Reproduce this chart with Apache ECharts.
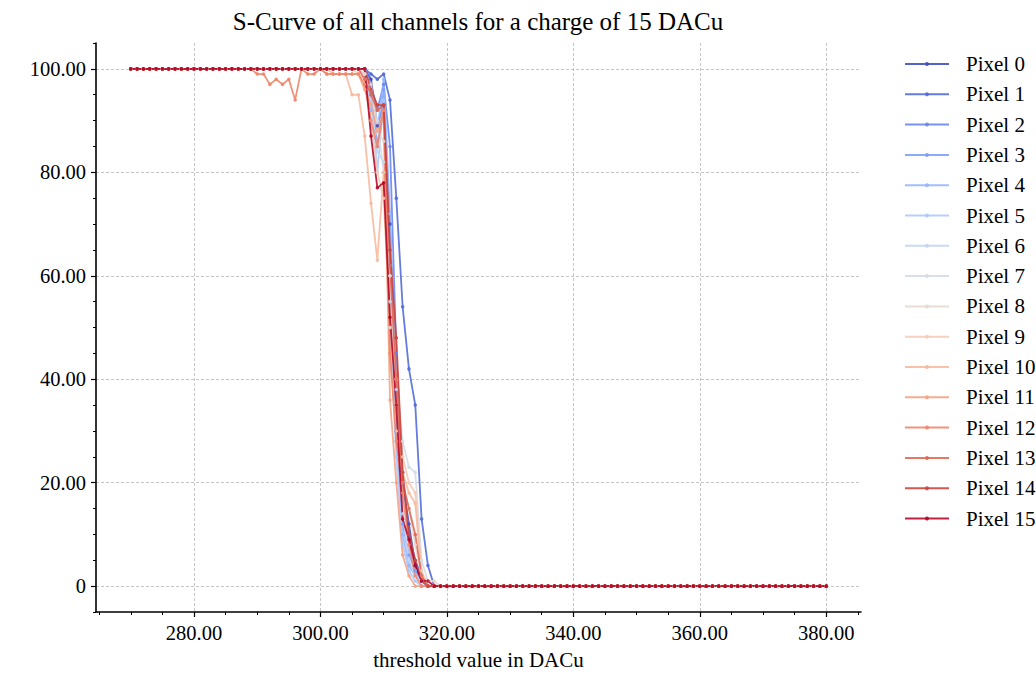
<!DOCTYPE html>
<html>
<head>
<meta charset="utf-8">
<script src="https://cdn.jsdelivr.net/npm/echarts@6/dist/echarts.min.js"></script>
<style>html,body{margin:0;padding:0;background:#fff}#c{width:1036px;height:675px}</style>
</head>
<body>
<div id="c"></div>
<script>
const thresholds = [
  270,271,272,273,274,275,276,277,278,279,
  280,281,282,283,284,285,286,287,288,289,
  290,291,292,293,294,295,296,297,298,299,
  300,301,302,303,304,305,306,307,308,309,
  310,311,312,313,314,315,316,317,318,319,
  320,321,322,323,324,325,326,327,328,329,
  330,331,332,333,334,335,336,337,338,339,
  340,341,342,343,344,345,346,347,348,349,
  350,351,352,353,354,355,356,357,358,359,
  360,361,362,363,364,365,366,367,368,369,
  370,371,372,373,374,375,376,377,378,379,
  380
];
const seriesNames = ['Pixel 0','Pixel 1','Pixel 2','Pixel 3','Pixel 4','Pixel 5','Pixel 6','Pixel 7',
  'Pixel 8','Pixel 9','Pixel 10','Pixel 11','Pixel 12','Pixel 13','Pixel 14','Pixel 15'];
const colors = ['#3b4cc0','#4f6ad8','#6585ec','#7b9ff9','#93b5fe','#aac7fd','#c0d4f5','#d4dbe7',
  '#e6d7cf','#f2cbb7','#f7b89c','#f6a182','#ee8468','#e06550','#cc4039','#b40426'];
const xMajorTicks = [280,300,320,340,360,380];
const xMinorTicks = [265,270,275,285,290,295,305,310,315,325,330,335,345,350,355,365,370,375,385];
const yMajorTicks = [0,20,40,60,80,100];
const yMinorTicks = [-5,5,10,15,25,30,35,45,50,55,65,70,75,85,90,95,105];

const pixel0 = [
  100,100,100,100,100,100,100,100,100,100,
  100,100,100,100,100,100,100,100,100,100,
  100,100,100,100,100,100,100,100,100,100,
  100,100,100,100,100,100,100,100,98,89,
  93,70,30,20,12,4,1,0,0,0,
  0,0,0,0,0,0,0,0,0,0, 0,0,0,0,0,0,0,0,0,0, 0,0,0,0,0,0,0,0,0,0,
  0,0,0,0,0,0,0,0,0,0, 0,0,0,0,0,0,0,0,0,0, 0,0,0,0,0,0,0,0,0,0,
  0
];
const pixel1 = [
  100,100,100,100,100,100,100,100,100,100,
  100,100,100,100,100,100,100,100,100,100,
  100,100,100,100,100,100,100,100,100,100,
  100,100,100,100,100,100,100,100,99,98,
  99,94,75,54,42,35,13,4,0,0,
  0,0,0,0,0,0,0,0,0,0, 0,0,0,0,0,0,0,0,0,0, 0,0,0,0,0,0,0,0,0,0,
  0,0,0,0,0,0,0,0,0,0, 0,0,0,0,0,0,0,0,0,0, 0,0,0,0,0,0,0,0,0,0,
  0
];
const pixel2 = [
  100,100,100,100,100,100,100,100,100,100,
  100,100,100,100,100,100,100,100,100,100,
  100,100,100,100,100,100,100,100,100,100,
  100,100,100,100,100,100,100,100,97,92,
  97,85,45,22,10,5,2,0,0,0,
  0,0,0,0,0,0,0,0,0,0, 0,0,0,0,0,0,0,0,0,0, 0,0,0,0,0,0,0,0,0,0,
  0,0,0,0,0,0,0,0,0,0, 0,0,0,0,0,0,0,0,0,0, 0,0,0,0,0,0,0,0,0,0,
  0
];
const pixel3 = [
  100,100,100,100,100,100,100,100,100,100,
  100,100,100,100,100,100,100,100,100,100,
  100,100,100,100,100,100,100,100,100,100,
  100,100,100,100,100,100,100,100,95,85,
  96,62,30,12,6,3,1,0,0,0,
  0,0,0,0,0,0,0,0,0,0, 0,0,0,0,0,0,0,0,0,0, 0,0,0,0,0,0,0,0,0,0,
  0,0,0,0,0,0,0,0,0,0, 0,0,0,0,0,0,0,0,0,0, 0,0,0,0,0,0,0,0,0,0,
  0
];
const pixel4 = [
  100,100,100,100,100,100,100,100,100,100,
  100,100,100,100,100,100,100,100,100,100,
  100,100,100,100,100,100,100,100,100,100,
  100,100,100,100,100,100,100,100,92,88,
  98,72,40,10,4,2,1,0,0,0,
  0,0,0,0,0,0,0,0,0,0, 0,0,0,0,0,0,0,0,0,0, 0,0,0,0,0,0,0,0,0,0,
  0,0,0,0,0,0,0,0,0,0, 0,0,0,0,0,0,0,0,0,0, 0,0,0,0,0,0,0,0,0,0,
  0
];
const pixel5 = [
  100,100,100,100,100,100,100,100,100,100,
  100,100,100,100,100,100,100,100,100,100,
  100,100,100,100,100,100,100,100,100,100,
  100,100,100,100,100,100,100,100,96,80,
  94,50,25,8,3,1,0,0,0,0,
  0,0,0,0,0,0,0,0,0,0, 0,0,0,0,0,0,0,0,0,0, 0,0,0,0,0,0,0,0,0,0,
  0,0,0,0,0,0,0,0,0,0, 0,0,0,0,0,0,0,0,0,0, 0,0,0,0,0,0,0,0,0,0,
  0
];
const pixel6 = [
  100,100,100,100,100,100,100,100,100,100,
  100,100,100,100,100,100,100,100,100,100,
  100,100,100,100,100,100,100,100,100,100,
  100,100,100,100,100,100,100,99,93,84,
  82,60,38,14,5,2,1,0,0,0,
  0,0,0,0,0,0,0,0,0,0, 0,0,0,0,0,0,0,0,0,0, 0,0,0,0,0,0,0,0,0,0,
  0,0,0,0,0,0,0,0,0,0, 0,0,0,0,0,0,0,0,0,0, 0,0,0,0,0,0,0,0,0,0,
  0
];
const pixel7 = [
  100,100,100,100,100,100,100,100,100,100,
  100,100,100,100,100,100,100,100,100,100,
  100,100,100,100,100,100,100,100,100,100,
  100,100,100,100,100,100,100,99,96,90,
  80,55,40,28,23,22,5,1,0,0,
  0,0,0,0,0,0,0,0,0,0, 0,0,0,0,0,0,0,0,0,0, 0,0,0,0,0,0,0,0,0,0,
  0,0,0,0,0,0,0,0,0,0, 0,0,0,0,0,0,0,0,0,0, 0,0,0,0,0,0,0,0,0,0,
  0
];
const pixel8 = [
  100,100,100,100,100,100,100,100,100,100,
  100,100,100,100,100,100,100,100,100,100,
  100,100,100,100,100,100,100,100,100,100,
  100,100,100,100,100,100,100,99,97,88,
  86,60,35,20,15,8,2,1,1,0,
  0,0,0,0,0,0,0,0,0,0, 0,0,0,0,0,0,0,0,0,0, 0,0,0,0,0,0,0,0,0,0,
  0,0,0,0,0,0,0,0,0,0, 0,0,0,0,0,0,0,0,0,0, 0,0,0,0,0,0,0,0,0,0,
  0
];
const pixel9 = [
  100,100,100,100,100,100,100,100,100,100,
  100,100,100,100,100,100,100,100,100,100,
  100,100,100,100,100,100,100,100,100,100,
  100,100,100,100,100,100,99,98,90,80,
  75,50,40,25,20,18,3,0,0,0,
  0,0,0,0,0,0,0,0,0,0, 0,0,0,0,0,0,0,0,0,0, 0,0,0,0,0,0,0,0,0,0,
  0,0,0,0,0,0,0,0,0,0, 0,0,0,0,0,0,0,0,0,0, 0,0,0,0,0,0,0,0,0,0,
  0
];
const pixel10 = [
  100,100,100,100,100,100,100,100,100,100,
  100,100,100,100,100,100,100,100,100,100,
  100,100,100,100,100,100,100,100,100,100,
  100,100,99,99,99,95,95,87,74,63,
  80,45,30,22,18,16,2,0,0,0,
  0,0,0,0,0,0,0,0,0,0, 0,0,0,0,0,0,0,0,0,0, 0,0,0,0,0,0,0,0,0,0,
  0,0,0,0,0,0,0,0,0,0, 0,0,0,0,0,0,0,0,0,0, 0,0,0,0,0,0,0,0,0,0,
  0
];
const pixel11 = [
  100,100,100,100,100,100,100,100,100,100,
  100,100,100,100,100,100,100,100,100,100,
  100,100,100,100,100,100,100,100,100,100,
  100,99,99,99,99,99,99,96,93,88,
  92,36,20,6,2,0,0,0,0,0,
  0,0,0,0,0,0,0,0,0,0, 0,0,0,0,0,0,0,0,0,0, 0,0,0,0,0,0,0,0,0,0,
  0,0,0,0,0,0,0,0,0,0, 0,0,0,0,0,0,0,0,0,0, 0,0,0,0,0,0,0,0,0,0,
  0
];
const pixel12 = [
  100,100,100,100,100,100,100,100,100,100,
  100,100,100,100,100,100,100,100,100,100,
  99,99,97,98,97,98,94,100,99,99,
  100,99,99,99,99,99,99,97,90,85,
  92,45,28,18,8,2,0,0,0,0,
  0,0,0,0,0,0,0,0,0,0, 0,0,0,0,0,0,0,0,0,0, 0,0,0,0,0,0,0,0,0,0,
  0,0,0,0,0,0,0,0,0,0, 0,0,0,0,0,0,0,0,0,0, 0,0,0,0,0,0,0,0,0,0,
  0
];
const pixel13 = [
  100,100,100,100,100,100,100,100,100,100,
  100,100,100,100,100,100,100,100,100,100,
  100,100,100,100,100,100,100,100,100,100,
  100,100,100,100,100,100,100,98,95,92,
  93,62,40,20,15,10,2,0,0,0,
  0,0,0,0,0,0,0,0,0,0, 0,0,0,0,0,0,0,0,0,0, 0,0,0,0,0,0,0,0,0,0,
  0,0,0,0,0,0,0,0,0,0, 0,0,0,0,0,0,0,0,0,0, 0,0,0,0,0,0,0,0,0,0,
  0
];
const pixel14 = [
  100,100,100,100,100,100,100,100,100,100,
  100,100,100,100,100,100,100,100,100,100,
  100,100,100,100,100,100,100,100,100,100,
  100,100,100,100,100,100,100,100,96,93,
  93,65,48,22,10,5,1,0,0,0,
  0,0,0,0,0,0,0,0,0,0, 0,0,0,0,0,0,0,0,0,0, 0,0,0,0,0,0,0,0,0,0,
  0,0,0,0,0,0,0,0,0,0, 0,0,0,0,0,0,0,0,0,0, 0,0,0,0,0,0,0,0,0,0,
  0
];
const pixel15 = [
  100,100,100,100,100,100,100,100,100,100,
  100,100,100,100,100,100,100,100,100,100,
  100,100,100,100,100,100,100,100,100,100,
  100,100,100,100,100,100,100,100,87,77,
  78,52,35,13,9,4,1,1,0,0,
  0,0,0,0,0,0,0,0,0,0, 0,0,0,0,0,0,0,0,0,0, 0,0,0,0,0,0,0,0,0,0,
  0,0,0,0,0,0,0,0,0,0, 0,0,0,0,0,0,0,0,0,0, 0,0,0,0,0,0,0,0,0,0,
  0
];
const allValues = [pixel0,pixel1,pixel2,pixel3,pixel4,pixel5,pixel6,pixel7,
  pixel8,pixel9,pixel10,pixel11,pixel12,pixel13,pixel14,pixel15];
allValues.forEach((a,i)=>{ if(a.length!==thresholds.length) throw new Error('length mismatch in series '+i+': '+a.length); });

const FONT = '"Liberation Serif", "DejaVu Serif", serif';
const chart = echarts.init(document.getElementById('c'), null, {renderer:'svg'});

const series = allValues.map((vals,i)=>({
  type:'line',
  name: seriesNames[i],
  data: thresholds.map((x,j)=>[x, vals[j]]),
  xAxisIndex:0, yAxisIndex:0,
  symbol:'circle', symbolSize:3.5, showSymbol:true,
  lineStyle:{width:1.8, color:colors[i], opacity:0.88},
  itemStyle:{color:colors[i], opacity:0.88},
  emphasis:{disabled:true},
  animation:false
}));

chart.setOption({
  animation:false,
  backgroundColor:'#fff',
  graphic:[{
    type:'text', x:478, y:21, silent:true,
    style:{text:'S-Curve of all channels for a charge of 15 DACu', align:'center', verticalAlign:'middle',
      fontFamily:FONT, fontSize:25, fill:'#000'}
  }],
  grid:{left:96, right:175, top:43, bottom:62, containLabel:false},
  legend:{
    orient:'vertical', left:899, top:48,
    itemWidth:44, itemHeight:5, itemGap:8.3,
    textStyle:{fontFamily:FONT, fontSize:21, color:'#000', lineHeight:22, padding:[0,0,0,12]},
    data:seriesNames
  },
  xAxis:[{
    type:'value', min:264.5, max:385.5, position:'bottom',
    axisLine:{show:true, onZero:false, lineStyle:{color:'#000', width:1.6}},
    axisTick:{show:true, customValues:xMajorTicks, length:5, lineStyle:{color:'#000', width:1.2}},
    axisLabel:{customValues:xMajorTicks, margin:10, fontFamily:FONT, fontSize:20.5, color:'#000',
      formatter:v=> v===0 ? '0' : Number(v).toFixed(2)},
    splitLine:{show:true, lineStyle:{color:'#b8b8b8', width:0.8, type:[3,2]}},
    name:'threshold value in DACu', nameLocation:'middle', nameGap:37,
    nameTextStyle:{fontFamily:FONT, fontSize:21, color:'#000', verticalAlign:'top'}
  },{
    type:'value', min:264.5, max:385.5, position:'bottom', offset:0,
    axisLine:{show:false, onZero:false},
    axisTick:{show:true, customValues:xMinorTicks, length:3, lineStyle:{color:'#000', width:1}},
    axisLabel:{show:false}, splitLine:{show:false}
  }],
  yAxis:[{
    type:'value', min:-5, max:105, position:'left',
    axisLine:{show:true, onZero:false, lineStyle:{color:'#000', width:1.6}},
    axisTick:{show:true, customValues:yMajorTicks, length:5, lineStyle:{color:'#000', width:1.2}},
    axisLabel:{customValues:yMajorTicks, margin:10, fontFamily:FONT, fontSize:20.5, color:'#000',
      formatter:v=> v===0 ? '0' : Number(v).toFixed(2)},
    splitLine:{show:true, lineStyle:{color:'#b8b8b8', width:0.8, type:[3,2]}}
  },{
    type:'value', min:-5, max:105, position:'left', offset:0,
    axisLine:{show:false, onZero:false},
    axisTick:{show:true, customValues:yMinorTicks, length:3, lineStyle:{color:'#000', width:1}},
    axisLabel:{show:false}, splitLine:{show:false}
  }],
  series: series
});
</script>
</body>
</html>
